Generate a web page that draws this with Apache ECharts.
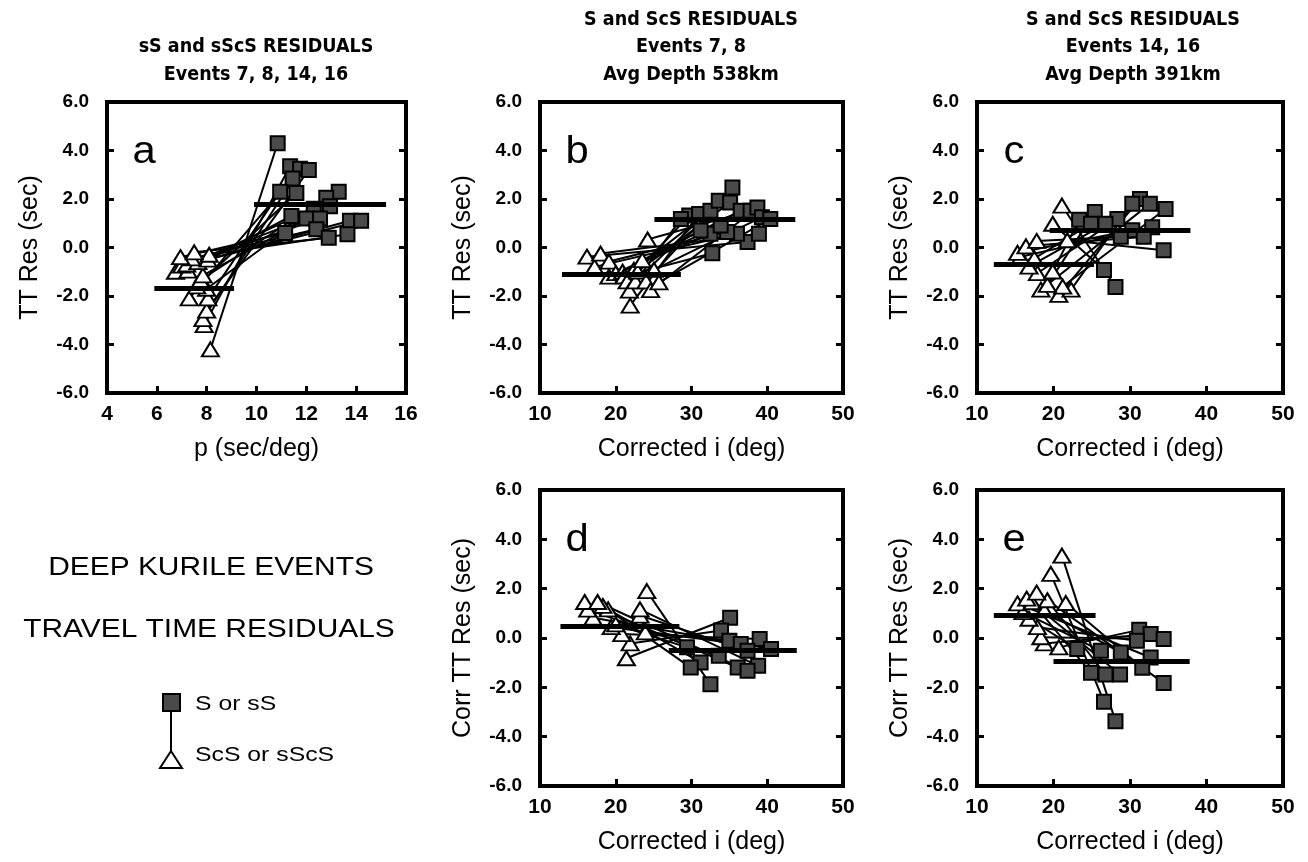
<!DOCTYPE html>
<html><head><meta charset="utf-8">
<script src="https://cdn.jsdelivr.net/npm/echarts@6/dist/echarts.min.js"></script>
<style>html,body{margin:0;padding:0;background:#fff}#c{width:1308px;height:862px}</style>
</head><body><div id="c"></div>
<script>
// ---------------- DATA ----------------
// pairs: triangle k (ScS / sScS) is joined to square k (S / sS)
// Panel a: sS and sScS residuals vs p (sec/deg)
const aTri = [[8.15,-4.2],[7.9,-3.2],[7.85,-2.95],[8.0,-2.6],[7.3,-2.1],[8.05,-2.1],[8.0,-1.7],[7.6,-1.6],[7.75,-1.35],[7.85,-1.15],[6.75,-1.0],[7.25,-0.95],[7.0,-0.75],[7.2,-0.7],[7.65,-0.6],[8.05,-0.5],[7.4,-0.45],[6.95,-0.4],[8.1,-0.3],[7.5,-0.2]];
const aSq  = [[10.85,4.3],[11.35,3.35],[11.75,3.25],[12.1,3.2],[11.45,2.85],[10.95,2.3],[13.3,2.3],[11.6,2.25],[12.8,2.05],[12.95,1.7],[12.3,1.6],[11.4,1.3],[12.0,1.2],[12.55,1.2],[13.75,1.1],[14.2,1.1],[12.4,0.75],[11.15,0.6],[13.65,0.55],[12.9,0.4]];
const aTriAvg = [[5.9,-1.67],[9.1,-1.67]];
const aSqAvg  = [[9.9,1.77],[15.2,1.77]];

// Panel b: S and ScS, events 7, 8
const bTri = [[16.2,-0.38],[17.2,-0.8],[18.0,-0.25],[19.1,-0.58],[19.1,-1.2],[20.0,-1.06],[20.9,-1.0],[21.1,-1.19],[21.5,-1.4],[21.8,-1.78],[21.9,-2.4],[22.4,-0.92],[22.6,-1.4],[22.9,-0.99],[23.5,-0.52],[24.0,-1.4],[24.2,0.33],[24.6,-1.76],[25.05,-0.92],[25.7,-1.44]];
const bSq  = [[37.4,0.23],[36.0,0.57],[38.9,0.57],[34.7,0.64],[32.5,0.57],[33.85,0.91],[31.2,0.7],[32.75,-0.24],[29.7,1.32],[28.6,1.18],[31.0,1.38],[32.5,1.52],[33.6,1.93],[35.1,1.86],[36.5,1.52],[35.4,2.47],[37.8,1.52],[38.7,1.65],[39.3,1.25],[40.4,1.18]];
const bTriAvg = [[12.9,-1.1],[28.6,-1.1]];
const bSqAvg  = [[25.1,1.15],[43.7,1.15]];

// Panel c: S and ScS, events 14, 16
const cTri = [[20.7,-1.95],[18.35,-1.74],[22.3,-1.74],[21.2,-1.61],[19.2,-1.54],[17.9,-1.06],[19.9,-0.99],[16.8,-0.79],[17.5,-0.45],[15.7,-0.38],[15.3,-0.22],[16.4,0.05],[17.8,0.27],[21.8,0.3],[19.9,0.98],[21.1,1.73]];
const cSq  = [[31.3,2.0],[32.6,1.8],[30.3,1.8],[34.65,1.59],[25.4,1.46],[28.35,1.18],[23.35,1.14],[26.8,0.98],[24.9,0.98],[32.9,0.84],[30.3,0.71],[31.8,0.44],[28.8,0.44],[34.4,-0.11],[26.6,-0.93],[28.1,-1.63]];
const cTriAvg = [[12.2,-0.68],[25.3,-0.68]];
const cSqAvg  = [[19.5,0.71],[37.9,0.71]];

// Panel d: corrected residuals, events 7, 8
const dTri = [[21.4,-0.82],[21.9,-0.22],[20.8,0.16],[23.9,0.23],[19.4,0.44],[20.0,0.55],[17.0,0.82],[23.2,0.91],[16.3,1.15],[19.0,1.16],[23.2,1.16],[18.3,1.3],[15.9,1.46],[17.6,1.46],[24.1,1.9]];
const dSq  = [[35.1,0.82],[33.9,0.3],[39.0,-0.04],[35.0,-0.11],[36.5,-0.24],[29.4,-0.38],[40.5,-0.45],[37.4,-0.52],[33.6,-0.72],[31.2,-0.99],[38.8,-1.13],[29.9,-1.2],[36.1,-1.2],[37.4,-1.33],[32.5,-1.88]];
const dTriAvg = [[12.7,0.46],[28.4,0.46]];
const dSqAvg  = [[27.0,-0.49],[43.9,-0.49]];

// Panel e: corrected residuals, events 14, 16
const eTri = [[20.7,-0.38],[18.8,-0.22],[18.35,0.03],[17.9,0.44],[16.8,0.78],[16.0,1.05],[18.8,1.12],[15.3,1.4],[21.6,1.42],[17.2,1.45],[19.2,1.53],[16.5,1.6],[17.8,1.84],[19.65,2.6],[21.1,3.34]];
const eSq  = [[31.2,0.33],[32.7,0.16],[34.4,-0.04],[30.9,-0.11],[23.1,-0.45],[26.2,-0.52],[28.8,-0.59],[32.7,-0.79],[31.6,-1.21],[24.9,-1.41],[26.8,-1.48],[28.7,-1.48],[34.4,-1.82],[26.6,-2.58],[28.1,-3.37]];
const eTriAvg = [[12.2,0.92],[25.5,0.92]];
const eSqAvg  = [[20.0,-0.93],[37.8,-0.93]];

// axis ranges / tick steps
const yRange = [-6, 6], yStep = 2;
const pRange = [4, 16], pStep = 2;
const iRange = [10, 50], iStep = 10;

// text
const titles = {
  a: ['sS and sScS RESIDUALS', 'Events 7, 8, 14, 16'],
  b: ['S and ScS RESIDUALS', 'Events 7, 8', 'Avg Depth 538km'],
  c: ['S and ScS RESIDUALS', 'Events 14, 16', 'Avg Depth 391km']
};
const sideText = ['DEEP KURILE EVENTS', 'TRAVEL TIME RESIDUALS'];
const legendText = ['S or sS', 'ScS or sScS'];

// ---------------- LAYOUT ----------------
const panels = [
  {key:'a', tri:aTri, sq:aSq, triAvg:aTriAvg, sqAvg:aSqAvg, xr:pRange, xs:pStep, xName:'p (sec/deg)', yName:'TT Res (sec)', box:[107,102,299,291]},
  {key:'b', tri:bTri, sq:bSq, triAvg:bTriAvg, sqAvg:bSqAvg, xr:iRange, xs:iStep, xName:'Corrected i (deg)', yName:'TT Res (sec)', box:[540,102,303,291]},
  {key:'c', tri:cTri, sq:cSq, triAvg:cTriAvg, sqAvg:cSqAvg, xr:iRange, xs:iStep, xName:'Corrected i (deg)', yName:'TT Res (sec)', box:[977,102,306,291]},
  {key:'d', tri:dTri, sq:dSq, triAvg:dTriAvg, sqAvg:dSqAvg, xr:iRange, xs:iStep, xName:'Corrected i (deg)', yName:'Corr TT Res (sec)', box:[540,490,303,296]},
  {key:'e', tri:eTri, sq:eSq, triAvg:eTriAvg, sqAvg:eSqAvg, xr:iRange, xs:iStep, xName:'Corrected i (deg)', yName:'Corr TT Res (sec)', box:[977,490,306,296]}
];

const BLACK = '#000';
const SQFILL = '#4a4a4a';
const tickStyle = {show:true, inside:true, length:7, lineStyle:{color:BLACK, width:3}};
const grids = [], xAxes = [], yAxes = [], series = [], graphics = [];

panels.forEach((p, i) => {
  const [l, t, w, h] = p.box;
  grids.push({left:l, top:t, width:w, height:h, show:true, borderColor:BLACK, borderWidth:4, backgroundColor:'transparent'});
  xAxes.push({
    gridIndex:i, type:'value', min:p.xr[0], max:p.xr[1], interval:p.xs, position:'bottom',
    axisLine:{show:false, onZero:false}, axisTick:tickStyle, splitLine:{show:false},
    axisLabel:{color:BLACK, fontFamily:'Liberation Sans', fontWeight:'bold', fontSize:21, margin:11, showMinLabel:true, showMaxLabel:true},
    name:p.xName, nameLocation:'middle', nameGap:44,
    nameTextStyle:{color:BLACK, fontFamily:'Liberation Sans', fontSize:25}
  });
  yAxes.push({
    gridIndex:i, type:'value', min:yRange[0], max:yRange[1], interval:yStep, position:'left',
    axisLine:{show:false, onZero:false}, axisTick:tickStyle, splitLine:{show:false},
    axisLabel:{color:BLACK, fontFamily:'Liberation Sans', fontWeight:'bold', fontSize:19, margin:18, formatter:v => v.toFixed(1), showMinLabel:true, showMaxLabel:true},
    name:p.yName, nameLocation:'middle', nameGap:64, nameRotate:90,
    nameTextStyle:{color:BLACK, fontFamily:'Liberation Sans', fontSize:25}
  });
  yAxes.push({
    gridIndex:i, type:'value', min:yRange[0], max:yRange[1], interval:yStep, position:'right',
    axisLine:{show:false, onZero:false}, axisTick:tickStyle, splitLine:{show:false}, axisLabel:{show:false}
  });
  const yi = 2 * i;
  series.push({
    type:'lines', coordinateSystem:'cartesian2d', xAxisIndex:i, yAxisIndex:yi, silent:true, z:2,
    lineStyle:{color:BLACK, width:2, opacity:1, curveness:0},
    data:p.tri.map((pt, k) => ({coords:[pt, p.sq[k]]}))
  });
  series.push({
    type:'scatter', xAxisIndex:i, yAxisIndex:yi, silent:true, z:3,
    symbol:'rect', symbolSize:14,
    itemStyle:{color:SQFILL, borderColor:BLACK, borderWidth:2, opacity:1},
    data:p.sq
  });
  series.push({
    type:'scatter', xAxisIndex:i, yAxisIndex:yi, silent:true, z:3,
    symbol:'triangle', symbolSize:[17,14],
    itemStyle:{color:'#fff', borderColor:BLACK, borderWidth:2, opacity:1},
    data:p.tri
  });
  series.push({
    type:'lines', coordinateSystem:'cartesian2d', xAxisIndex:i, yAxisIndex:yi, silent:true, z:5,
    lineStyle:{color:BLACK, width:5, opacity:1, curveness:0},
    data:[{coords:p.triAvg}, {coords:p.sqAvg}]
  });
  // panel letter
  graphics.push({type:'text', x:l + 37, y:t + 51, scaleX:1.1, z:10,
    style:{text:p.key, font:'38px "Liberation Sans"', fill:BLACK, textAlign:'center', textVerticalAlign:'middle'}});
});

// titles
const titleX = {a:256, b:691, c:1133};
const titleY3 = [20, 47, 75];
Object.keys(titles).forEach(k => {
  const lines = titles[k];
  const ys = lines.length === 3 ? titleY3 : titleY3.slice(1);
  lines.forEach((s, j) => graphics.push({type:'text', x:titleX[k], y:ys[j], z:10,
    style:{text:s, font:'bold 19.5px "DejaVu Sans Condensed", "DejaVu Sans"', fill:BLACK, textAlign:'center', textVerticalAlign:'middle'}}));
});

// side text
graphics.push({type:'text', x:211, y:568, scaleX:1.15, z:10,
  style:{text:sideText[0], font:'26px "Liberation Sans"', fill:BLACK, textAlign:'center', textVerticalAlign:'middle'}});
graphics.push({type:'text', x:209, y:630, scaleX:1.15, z:10,
  style:{text:sideText[1], font:'26px "Liberation Sans"', fill:BLACK, textAlign:'center', textVerticalAlign:'middle'}});

// legend key
graphics.push({type:'line', z:10, shape:{x1:171, y1:705, x2:171, y2:752}, style:{stroke:BLACK, lineWidth:2}});
graphics.push({type:'rect', z:11, shape:{x:163, y:694, width:17, height:17}, style:{fill:SQFILL, stroke:BLACK, lineWidth:2}});
graphics.push({type:'polygon', z:11, shape:{points:[[171,751],[160,768],[182,768]]}, style:{fill:'#fff', stroke:BLACK, lineWidth:2}});
graphics.push({type:'text', x:195, y:704, scaleX:1.18, z:10,
  style:{text:legendText[0], font:'21px "Liberation Sans"', fill:BLACK, textAlign:'left', textVerticalAlign:'middle'}});
graphics.push({type:'text', x:195, y:755, scaleX:1.18, z:10,
  style:{text:legendText[1], font:'21px "Liberation Sans"', fill:BLACK, textAlign:'left', textVerticalAlign:'middle'}});

const chart = echarts.init(document.getElementById('c'), null, {renderer:'canvas'});
chart.setOption({
  animation:false,
  backgroundColor:'#fff',
  grid:grids, xAxis:xAxes, yAxis:yAxes, series:series, graphic:graphics
});
</script></body></html>
